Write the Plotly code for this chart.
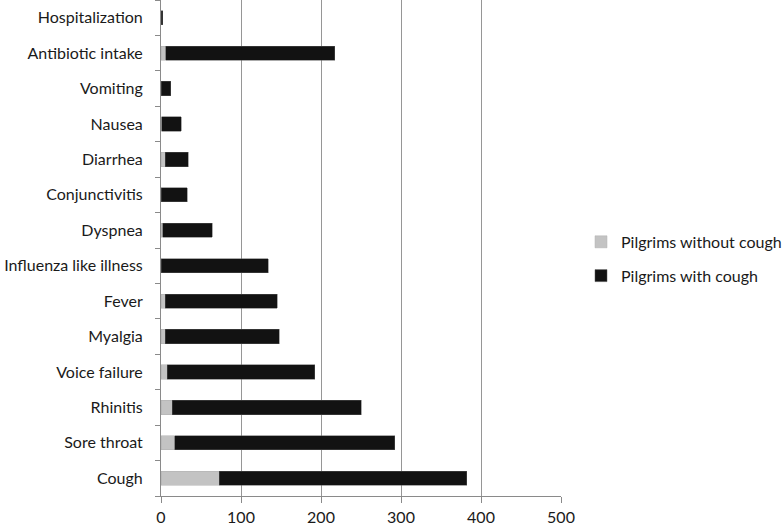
import plotly.graph_objects as go

categories = ["Cough", "Sore throat", "Rhinitis", "Voice failure", "Myalgia", "Fever",
              "Influenza like illness", "Dyspnea", "Conjunctivitis", "Diarrhea", "Nausea",
              "Vomiting", "Antibiotic intake", "Hospitalization"]
without_cough = [73, 17, 14, 8, 5, 5, 0, 2, 0, 5, 1, 0, 6, 0]
with_cough = [309, 275, 236, 184, 143, 140, 134, 62, 33, 29, 24, 12, 211, 2]
x_ticks = [0, 100, 200, 300, 400, 500]

font_family = "Lato, Carlito, Calibri, sans-serif"

fig = go.Figure()
fig.add_trace(go.Bar(
    y=categories, x=without_cough, orientation="h", name="Pilgrims without cough",
    marker=dict(color="#c3c3c3", line=dict(color="#b0b0b0", width=0.5)),
    legendgroup="a",
))
fig.add_trace(go.Bar(
    y=categories, x=with_cough, orientation="h", name="Pilgrims with cough",
    marker=dict(color="#121212", line=dict(color="#555555", width=0.5)),
    legendgroup="b",
))

fig.update_layout(
    barmode="stack",
    bargap=0.6,
    width=784, height=525,
    margin=dict(l=161, r=223, t=0, b=29, autoexpand=False),
    paper_bgcolor="white", plot_bgcolor="white",
    font=dict(family=font_family, size=16, color="#1a1a1a"),
    legend=dict(x=1.05, y=0.478, xanchor="left", yanchor="middle",
                traceorder="grouped", tracegroupgap=10,
                font=dict(size=16), itemwidth=30, bgcolor="rgba(0,0,0,0)"),
    showlegend=True,
)
fig.update_xaxes(
    range=[0, 500], tickvals=x_ticks, ticktext=[str(v) for v in x_ticks],
    showgrid=True, gridcolor="#969696", gridwidth=1,
    showline=True, linecolor="#8a8a8a", linewidth=1,
    ticks="outside", ticklen=6, tickcolor="#8a8a8a",
    zeroline=False, fixedrange=True, automargin=False, ticklabelstandoff=1,
)
fig.update_yaxes(
    categoryorder="array", categoryarray=categories,
    showline=True, linecolor="#8a8a8a", linewidth=1,
    ticks="outside", ticklen=5, tickcolor="#8a8a8a", tickson="boundaries",
    showgrid=False, fixedrange=True, automargin=False, ticklabelstandoff=14,
)

fig.write_html("out.html", config={"displayModeBar": False},
               post_script="document.body.style.margin='0';")
